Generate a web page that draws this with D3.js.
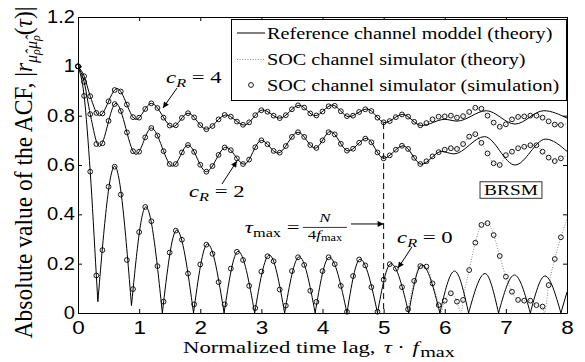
<!DOCTYPE html>
<html><head><meta charset="utf-8">
<script src="https://cdn.jsdelivr.net/npm/d3@7"></script>
<style>body{margin:0;background:#fff}</style>
</head><body>
<svg id="chart" width="585" height="362"></svg>
<script>
// ---------------- DATA ----------------
const xTicks = [0, 1, 2, 3, 4, 5, 6, 7, 8];
const yTicks = [0, 0.2, 0.4, 0.6, 0.8, 1, 1.2];
const yTickLabels = ["0", "0.2", "0.4", "0.6", "0.8", "1", "1.2"];

// Reference channel model (theory), c_R = 4 : key points (extrema)
const theoryTau4 = [0, 0.1, 0.2, 0.35, 0.64, 0.95, 1.2, 1.55, 1.8, 2.1, 2.42, 2.72, 3.02, 3.3, 3.62, 3.88, 4.16, 4.43, 4.73, 5.02, 5.31, 5.62, 6.0, 6.2, 6.68, 7.15, 7.62, 8.0];
const theoryVal4 = [1.0, 0.96, 0.879, 0.80, 0.91, 0.785, 0.85, 0.755, 0.81, 0.745, 0.803, 0.762, 0.823, 0.79, 0.842, 0.80, 0.843, 0.796, 0.827, 0.772, 0.805, 0.76, 0.785, 0.778, 0.82, 0.766, 0.82, 0.79];

// Reference channel model (theory), c_R = 2
const theoryTau2 = [0, 0.1, 0.2, 0.35, 0.62, 0.95, 1.2, 1.55, 1.8, 2.1, 2.42, 2.72, 3.0, 3.27, 3.6, 3.88, 4.13, 4.42, 4.72, 5.0, 5.32, 5.62, 5.95, 6.15, 6.65, 7.15, 7.65, 8.0];
const theoryVal2 = [1.0, 0.937, 0.806, 0.675, 0.85, 0.643, 0.75, 0.595, 0.681, 0.573, 0.672, 0.603, 0.70, 0.648, 0.733, 0.668, 0.736, 0.657, 0.708, 0.627, 0.678, 0.603, 0.655, 0.645, 0.715, 0.60, 0.705, 0.655];

// Reference channel model (theory), c_R = 0 : initial decay, then arches between zeros
const theoryTau0Start = [0, 0.1, 0.2, 0.3, 0.325];
const theoryVal0Start = [1.0, 0.88, 0.573, 0.152, 0.046];
const zeroTau0 = [0.325, 0.875, 1.38, 1.89, 2.39, 2.89, 3.38, 3.88, 4.40, 4.90, 5.41, 5.92, 6.39, 6.88, 7.40, 7.90];
const zeroVal0 = [0.046, 0.03, 0, 0, 0, 0, 0, 0, 0, 0, 0, 0, 0, 0, 0, 0];
const peakTau0 = [0.60, 1.11, 1.615, 2.12, 2.62, 3.13, 3.62, 4.11, 4.615, 5.12, 5.625, 6.16, 6.66, 7.14, 7.64];
const peakVal0 = [0.595, 0.43, 0.336, 0.28, 0.25, 0.235, 0.228, 0.226, 0.218, 0.20, 0.195, 0.17, 0.16, 0.154, 0.15];
const endTau0 = [7.90, 8.0];
const endVal0 = [0, 0.085];

// SOC channel simulator (simulation), tau = 0 ... 7.9
const simTau = [0,0.1,0.2,0.3,0.4,0.5,0.6,0.7,0.8,0.9,1,1.1,1.2,1.3,1.4,1.5,1.6,1.7,1.8,1.9,2,2.1,2.2,2.3,2.4,2.5,2.6,2.7,2.8,2.9,3,3.1,3.2,3.3,3.4,3.5,3.6,3.7,3.8,3.9,4,4.1,4.2,4.3,4.4,4.5,4.6,4.7,4.8,4.9,5,5.1,5.2,5.3,5.4,5.5,5.6,5.7,5.8,5.9,6,6.1,6.2,6.3,6.4,6.5,6.6,6.7,6.8,6.9,7,7.1,7.2,7.3,7.4,7.5,7.6,7.7,7.8,7.9];
const sim4 = [1.0,0.96,0.879,0.811,0.809,0.858,0.904,0.898,0.845,0.794,0.792,0.827,0.85,0.831,0.792,0.76,0.761,0.791,0.81,0.793,0.762,0.745,0.758,0.785,0.803,0.796,0.776,0.763,0.773,0.802,0.822,0.816,0.80,0.79,0.802,0.826,0.842,0.833,0.809,0.801,0.817,0.838,0.84,0.818,0.798,0.80,0.815,0.826,0.819,0.792,0.773,0.778,0.794,0.805,0.796,0.775,0.761,0.77,0.785,0.796,0.797,0.80,0.792,0.798,0.815,0.832,0.828,0.80,0.772,0.755,0.765,0.785,0.795,0.797,0.80,0.80,0.792,0.777,0.764,0.762];
const sim2 = [1.0,0.937,0.806,0.685,0.688,0.779,0.847,0.819,0.732,0.656,0.654,0.712,0.75,0.719,0.656,0.604,0.604,0.651,0.681,0.653,0.601,0.573,0.596,0.641,0.671,0.66,0.627,0.604,0.622,0.672,0.70,0.684,0.657,0.65,0.677,0.714,0.733,0.714,0.681,0.669,0.70,0.733,0.724,0.686,0.658,0.666,0.69,0.707,0.692,0.651,0.627,0.639,0.662,0.678,0.665,0.629,0.604,0.615,0.635,0.652,0.662,0.668,0.665,0.685,0.715,0.725,0.69,0.647,0.607,0.60,0.64,0.654,0.668,0.674,0.68,0.68,0.654,0.63,0.616,0.627];
const sim0 = [1.0,0.88,0.573,0.152,0.255,0.512,0.593,0.48,0.215,0.097,0.328,0.43,0.372,0.19,0.046,0.245,0.334,0.297,0.16,0.035,0.197,0.277,0.24,0.125,0.035,0.18,0.248,0.215,0.11,0.02,0.168,0.23,0.21,0.095,0.03,0.17,0.226,0.195,0.09,0.045,0.17,0.226,0.198,0.11,0.005,0.15,0.217,0.193,0.105,0.005,0.135,0.198,0.18,0.105,0.015,0.13,0.19,0.188,0.12,0.032,0.05,0.08,0.046,0.053,0.174,0.285,0.357,0.364,0.316,0.231,0.147,0.086,0.053,0.05,0.05,0.032,0.026,0.113,0.219,0.307];

// SOC channel simulator (theory), where it departs from the reference model
const socTau = [5.3,5.4,5.5,5.6,5.7,5.8,5.9,6.0,6.1,6.2,6.3,6.4,6.5,6.6,6.7,6.8,6.9,7.0,7.1,7.2,7.3,7.4,7.5,7.6,7.7,7.8,7.9,8.0];
const soc4 = [0.805,0.796,0.775,0.761,0.77,0.785,0.796,0.797,0.80,0.792,0.798,0.815,0.832,0.828,0.80,0.772,0.755,0.765,0.785,0.795,0.797,0.80,0.80,0.792,0.777,0.764,0.762,0.768];
const soc2 = [0.678,0.665,0.629,0.604,0.615,0.635,0.652,0.662,0.668,0.665,0.685,0.715,0.725,0.69,0.647,0.607,0.60,0.64,0.654,0.668,0.674,0.68,0.68,0.654,0.63,0.616,0.627,0.64];
const socTau0 = [5.4,5.5,5.6,5.7,5.8,5.9,5.93,6.0,6.1,6.2,6.27,6.3,6.4,6.5,6.6,6.7,6.8,6.9,7.0,7.1,7.2,7.3,7.4,7.5,7.6,7.63,7.7,7.8,7.9,8.0];
const soc0 = [0.015,0.13,0.19,0.188,0.12,0.032,0.0,0.05,0.08,0.046,0.0,0.053,0.174,0.285,0.357,0.364,0.316,0.231,0.147,0.086,0.053,0.05,0.05,0.032,0.026,0.0,0.113,0.219,0.307,0.38];

const legendLabels = ["Reference channel moddel (theory)", "SOC channel simulator (theory)", "SOC channel simulator (simulation)"];

// ---------------- DRAWING ----------------
const svg = d3.select("#chart");
const x = d3.scaleLinear().domain([0, 8]).range([78, 567]);
const y = d3.scaleLinear().domain([0, 1.2]).range([313, 17]);
const serif = "'Liberation Serif', 'Times New Roman', serif";
const sans = "'Liberation Sans', Arial, Helvetica, sans-serif";

svg.append("rect").attr("width", 585).attr("height", 362).attr("fill", "#fff");

svg.append("clipPath").attr("id", "clip").append("rect")
  .attr("x", x(0)).attr("y", y(1.2)).attr("width", x(8) - x(0)).attr("height", y(0) - y(1.2));
const plot = svg.append("g").attr("clip-path", "url(#clip)");

const zip = (a, b) => a.map((t, i) => [t, b[i]]);
const line = d3.line().x(d => x(d[0])).y(d => y(d[1])).curve(d3.curveMonotoneX);

// text stretched horizontally (the reference figure is widened)
function stext(parent, px, py, sx, size, anchor) {
  return parent.append("text").attr("transform", `translate(${px},${py}) scale(${sx},1)`)
    .attr("font-family", serif).attr("font-size", size).attr("text-anchor", anchor || "start").attr("fill", "#000");
}

// dotted SOC theory
const dotted = {stroke: "#8a8a8a", "stroke-width": 1, "stroke-dasharray": "1,1.6", fill: "none"};
[[socTau, soc4], [socTau, soc2], [socTau0, soc0]].forEach(([t, v]) => {
  const p = plot.append("path").attr("d", line(zip(t, v)));
  Object.entries(dotted).forEach(([k, val]) => p.attr(k, val));
});

// solid reference theory
const solid = p => p.attr("fill", "none").attr("stroke", "#000").attr("stroke-width", 1);
solid(plot.append("path").attr("d", line(zip(theoryTau4, theoryVal4))));
solid(plot.append("path").attr("d", line(zip(theoryTau2, theoryVal2))));
let d0 = line(zip(theoryTau0Start, theoryVal0Start));
peakTau0.forEach((pt, i) => {
  d0 += line([[zeroTau0[i], zeroVal0[i]], [pt, peakVal0[i]], [zeroTau0[i + 1], zeroVal0[i + 1]]]);
});
d0 += d3.line().x(d => x(d[0])).y(d => y(d[1]))(zip(endTau0, endVal0));
solid(plot.append("path").attr("d", d0));

// dashed tau_max marker
svg.append("line").attr("x1", x(5)).attr("x2", x(5)).attr("y1", y(0.77)).attr("y2", y(0))
  .attr("stroke", "#000").attr("stroke-width", 1).attr("stroke-dasharray", "6,4");

// simulation circles
const circ = svg.append("g").attr("fill", "none").attr("stroke", "#000").attr("stroke-width", 0.9);
[sim4, sim2, sim0].forEach(vals => {
  circ.selectAll(null).data(zip(simTau, vals)).enter().append("circle")
    .attr("cx", d => x(d[0])).attr("cy", d => y(d[1])).attr("r", 2.4);
});

// axes
function styleAxis(size, sx) {
  return g => {
    g.attr("font-family", sans).attr("font-size", size);
    g.selectAll("line, path").attr("stroke", "#000");
    g.selectAll("text").attr("fill", "#000").attr("transform", `scale(${sx},1)`);
  };
}
svg.append("g").attr("transform", `translate(0,${y(0)})`)
  .call(d3.axisBottom(x).tickValues(xTicks).tickFormat(d3.format("d")).tickSizeInner(-4).tickSizeOuter(0).tickPadding(8.2))
  .call(styleAxis(18, 1.25));
svg.append("g").attr("transform", `translate(0,${y(1.2)})`)
  .call(d3.axisTop(x).tickValues(xTicks).tickFormat("").tickSizeInner(-4).tickSizeOuter(0)).call(styleAxis(18, 1));
svg.append("g").attr("transform", `translate(${x(0)},0)`)
  .call(d3.axisLeft(y).tickValues(yTicks).tickFormat((d, i) => yTickLabels[i]).tickSizeInner(-4).tickSizeOuter(0).tickPadding(2.6))
  .call(styleAxis(17.5, 1.15));
svg.append("g").attr("transform", `translate(${x(8)},0)`)
  .call(d3.axisRight(y).tickValues(yTicks).tickFormat("").tickSizeInner(-4).tickSizeOuter(0)).call(styleAxis(18, 1));

// axis titles
const xl = stext(svg, 183, 353, 1.3, 17.5, "start");
xl.append("tspan").text("Normalized time lag, ");
xl.append("tspan").attr("font-style", "italic").attr("dx", 2).text("τ");
xl.append("tspan").attr("dx", 4).text("·");
xl.append("tspan").attr("font-style", "italic").attr("dx", 6).text("f");
xl.append("tspan").attr("font-size", 15.5).attr("dy", 4).attr("dx", 1).text("max");

const yl = svg.append("text").attr("transform", "translate(32,172.5) scale(1.06,1) rotate(-90)").attr("text-anchor", "middle")
  .attr("font-family", serif).attr("font-size", 23.5);
yl.append("tspan").text("Absolute value of the ACF, |");
yl.append("tspan").attr("font-style", "italic").text("r");
yl.append("tspan").attr("font-style", "italic").attr("font-size", 16).attr("dy", 5).text("μ\u0302");
yl.append("tspan").attr("font-style", "italic").attr("font-size", 12).attr("dy", 2.5).text("ρ");
yl.append("tspan").attr("font-style", "italic").attr("font-size", 16).attr("dy", -2.5).text("μ\u0302");
yl.append("tspan").attr("font-style", "italic").attr("font-size", 12).attr("dy", 2.5).text("ρ");
yl.append("tspan").attr("dy", -7.5).text("(");
yl.append("tspan").attr("font-style", "italic").text("τ");
yl.append("tspan").text(")|");

// legend
const lg = svg.append("g");
lg.append("rect").attr("x", 231.5).attr("y", 19.5).attr("width", 335).attr("height", 81)
  .attr("fill", "#fff").attr("stroke", "#000").attr("stroke-width", 1);
const rowY = [33, 59.5, 85];
lg.append("line").attr("x1", 237).attr("x2", 265).attr("y1", rowY[0]).attr("y2", rowY[0]).attr("stroke", "#000");
const dl = lg.append("line").attr("x1", 237).attr("x2", 265).attr("y1", rowY[1]).attr("y2", rowY[1]);
Object.entries(dotted).forEach(([k, val]) => dl.attr(k, val));
lg.append("circle").attr("cx", 251).attr("cy", rowY[2]).attr("r", 2.4).attr("fill", "none").attr("stroke", "#000").attr("stroke-width", 0.9);
legendLabels.forEach((t, i) => {
  stext(lg, 267, rowY[i] + 5.5, 1.155, 17.5).text(t);
});

// annotations (positions in data units)
svg.append("defs").append("marker").attr("id", "ah").attr("viewBox", "0 0 10 10").attr("refX", 10).attr("refY", 5)
  .attr("markerWidth", 9).attr("markerHeight", 6).attr("markerUnits", "userSpaceOnUse").attr("orient", "auto")
  .append("path").attr("d", "M0,0 L10,5 L0,10 z").attr("fill", "#000");
const arrows = [
  {from: [1.62, 0.912], to: [1.39, 0.831]},
  {from: [2.356, 0.523], to: [2.60, 0.616]},
  {from: [4.466, 0.361], to: [5.0, 0.361]},
  {from: [5.464, 0.268], to: [5.235, 0.182]}
];
arrows.forEach(a => {
  svg.append("line").attr("x1", x(a.from[0])).attr("y1", y(a.from[1])).attr("x2", x(a.to[0])).attr("y2", y(a.to[1]))
    .attr("stroke", "#000").attr("stroke-width", 1).attr("marker-end", "url(#ah)");
});

function cLabel(tau, v, num) {
  const t = stext(svg, x(tau), y(v), 1.3, 17.5);
  t.append("tspan").attr("font-style", "italic").text("c");
  t.append("tspan").attr("font-style", "italic").attr("font-size", 12.5).attr("dy", 4).text("R");
  t.append("tspan").attr("dy", -4).text(" = " + num);
}
cLabel(1.44, 0.932, "4");
cLabel(1.816, 0.47, "2");
cLabel(5.22, 0.284, "0");

// tau_max = N / (4 f_max)
const tm = stext(svg, x(2.73), y(0.324), 1.3, 17.5);
tm.append("tspan").attr("font-style", "italic").text("τ");
tm.append("tspan").attr("font-size", 12.5).attr("dy", 4).text("max");
tm.append("tspan").attr("dy", -4).text(" =");
stext(svg, x(4.04), y(0.369), 1.3, 13, "middle").attr("font-style", "italic").text("N");
svg.append("line").attr("x1", x(3.68)).attr("x2", x(4.40)).attr("y1", y(0.347)).attr("y2", y(0.347))
  .attr("stroke", "#000").attr("stroke-width", 0.8);
const den = stext(svg, x(4.04), y(0.30), 1.3, 13, "middle");
den.append("tspan").text("4");
den.append("tspan").attr("font-style", "italic").text("f");
den.append("tspan").attr("font-size", 9.5).attr("dy", 2).text("max");

// BRSM box
svg.append("rect").attr("x", x(6.577)).attr("y", y(0.532)).attr("width", x(7.59) - x(6.577)).attr("height", y(0.465) - y(0.532))
  .attr("fill", "#fff").attr("stroke", "#333").attr("stroke-width", 1);
stext(svg, (x(6.577) + x(7.59)) / 2, y(0.468) - 2.5, 1.25, 15.5, "middle").text("BRSM");
</script>
</body></html>
